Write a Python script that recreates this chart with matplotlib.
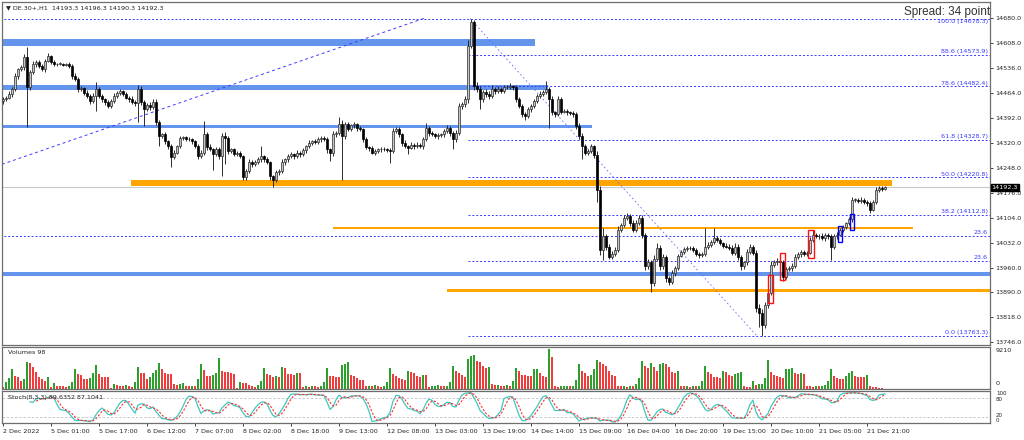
import numpy as np
import pandas as pd
import matplotlib.pyplot as plt
from matplotlib.patches import Rectangle
import matplotlib.transforms as mtransforms

# ---- DE.30+ H1 candles (2 Dec 06:00 .. 22 Dec 03:00) ----
close = np.array([
    14446, 14450, 14460, 14475, 14512, 14532, 14538, 14567, 14480, 14524,
    14547, 14553, 14541, 14532, 14556, 14570, 14553, 14546, 14548, 14548,
    14545, 14547, 14541, 14512, 14505, 14475, 14478, 14465, 14455, 14440,
    14455, 14475, 14455, 14446, 14437, 14426, 14440, 14455, 14464, 14469,
    14460, 14450, 14446, 14437, 14434, 14475, 14437, 14417, 14430, 14422,
    14437, 14379, 14339, 14344, 14324, 14310, 14278, 14292, 14310, 14333,
    14336, 14330, 14332, 14324, 14310, 14281, 14292, 14344, 14307, 14301,
    14287, 14301, 14281, 14339, 14333, 14295, 14301, 14287, 14290, 14281,
    14220, 14238, 14264, 14258, 14264, 14272, 14281, 14272, 14264, 14223,
    14214, 14235, 14238, 14264, 14272, 14281, 14287, 14281, 14292, 14287,
    14298, 14310, 14320, 14325, 14322, 14330, 14335, 14330, 14301, 14290,
    14344, 14349, 14373, 14339, 14373, 14359, 14370, 14373, 14363, 14359,
    14330, 14307, 14304, 14292, 14296, 14301, 14303, 14301, 14299, 14296,
    14353, 14359, 14344, 14320, 14310, 14306, 14315, 14310, 14315, 14310,
    14330, 14364, 14349, 14344, 14339, 14342, 14344, 14353, 14364, 14349,
    14330, 14349, 14426, 14431, 14446, 14600, 14668, 14483, 14475, 14446,
    14466, 14460, 14455, 14475, 14470, 14475, 14470, 14480, 14482, 14483,
    14480, 14446, 14426, 14402, 14397, 14417, 14426, 14440, 14455, 14460,
    14466, 14475, 14446, 14408, 14402, 14446, 14410, 14412, 14408, 14406,
    14402, 14368, 14339, 14310, 14292, 14296, 14310, 14285, 14185, 14012,
    14050, 14021, 13992, 14000, 14012, 14070, 14084, 14104, 14110, 14090,
    14070, 14090, 14104, 14055, 13964, 13975, 13916, 13985, 14017, 13964,
    13990, 13930, 13920, 13945, 13960, 13995, 14005, 14015, 14018, 14016,
    14012, 14000, 13996, 14000, 14020, 14025, 14035, 14045, 14040, 14030,
    14023, 14021, 14018, 14003, 14021, 13990, 13964, 13975, 14006, 14021,
    14003, 13844, 13829, 13795, 13853, 13887, 13968, 13975, 13980, 13976,
    13934, 13955, 13958, 13964, 13990, 14000, 14005, 14000, 14003, 14041,
    14055, 14050, 14052, 14045, 14055, 14050, 14021, 14050, 14055, 14070,
    14077, 14088, 14099, 14156, 14156, 14152, 14156, 14150, 14145, 14127,
    14150, 14185, 14190, 14186, 14192.3])
first_open = 14440

wick_up = np.array([
    6, 5, 8, 6, 10, 5, 7, 9, 29, 6,   8, 5, 6, 7, 5, 9, 4, 5, 3, 4,
    3, 4, 5, 6, 8, 5, 7, 4, 6, 5,     8, 20, 5, 6, 4, 7, 5, 8, 6, 5,
    4, 6, 5, 8, 5, 12, 10, 6, 5, 7,   10, 8, 6, 5, 7, 4, 6, 8, 5, 7,
    4, 5, 6, 3, 5, 7, 8, 38, 6, 9,    5, 7, 6, 10, 12, 6, 5, 4, 6, 5,
    4, 6, 8, 5, 7, 6, 29, 5, 6, 4,    5, 7, 6, 8, 5, 6, 7, 5, 6, 4,
    6, 5, 7, 4, 6, 8, 5, 6, 7, 5,     9, 6, 20, 12, 7, 6, 5, 8, 4, 6,
    5, 6, 4, 7, 5, 4, 6, 5, 4, 6,     10, 8, 6, 5, 7, 4, 6, 5, 6, 4,
    6, 12, 5, 6, 4, 7, 5, 6, 8, 5,    6, 7, 10, 8, 9, 15, 10, 6, 12, 9,
    7, 10, 8, 12, 6, 8, 5, 7, 6, 9,   5, 6, 7, 5, 8, 6, 5, 7, 6, 8,
    7, 23, 6, 8, 5, 10, 7, 5, 6, 4,   5, 6, 8, 10, 7, 6, 8, 5, 12, 10,
    25, 8, 6, 9, 7, 10, 6, 8, 7, 5,   8, 6, 9, 7, 6, 10, 8, 12, 15, 7,
    9, 6, 7, 8, 6, 5, 7, 6, 5, 4,     6, 5, 4, 6, 55, 8, 6, 30, 7, 6,
    5, 7, 6, 8, 10, 6, 7, 5, 8, 6,    5, 8, 10, 12, 9, 8, 10, 7, 8, 6,
    5, 7, 6, 8, 9, 6, 5, 7, 6, 8,     15, 6, 5, 7, 6, 5, 8, 6, 7, 5,
    6, 5, 7, 8, 6, 5, 7, 6, 5, 8,     6, 7, 5, 6, 3])
wick_dn = np.array([
    7, 6, 5, 8, 6, 9, 5, 7, 113, 8,   5, 7, 6, 5, 8, 4, 6, 4, 5, 3,
    4, 3, 5, 7, 6, 8, 5, 6, 7, 9,     5, 43, 6, 7, 8, 5, 6, 4, 7, 5,
    6, 5, 7, 6, 8, 55, 9, 49, 6, 7,   5, 8, 29, 6, 7, 8, 29, 6, 5, 4,
    6, 5, 4, 7, 6, 8, 5, 7, 9, 6,     44, 6, 8, 58, 75, 7, 5, 6, 4, 6,
    8, 6, 5, 7, 6, 5, 6, 7, 5, 9,     20, 6, 8, 5, 7, 6, 5, 8, 6, 7,
    5, 6, 4, 7, 5, 6, 8, 5, 10, 23,   7, 8, 6, 125, 7, 6, 5, 6, 8, 5,
    7, 6, 8, 5, 6, 4, 7, 5, 6, 33,    6, 5, 7, 8, 6, 19, 5, 7, 6, 5,
    7, 6, 8, 5, 6, 7, 5, 6, 5, 8,     29, 7, 6, 8, 7, 10, 8, 12, 9, 29,
    8, 7, 10, 6, 8, 5, 7, 6, 5, 6,    7, 8, 6, 9, 10, 6, 7, 5, 6, 7,
    5, 6, 82, 9, 7, 6, 8, 5, 7, 6,    8, 7, 9, 38, 8, 7, 6, 9, 37, 15,
    29, 9, 8, 7, 6, 8, 7, 6, 8, 9,    7, 8, 6, 10, 12, 8, 26, 9, 7, 10,
    8, 10, 9, 7, 8, 6, 5, 7, 6, 5,    6, 7, 8, 6, 7, 5, 6, 8, 7, 6,
    7, 5, 8, 6, 7, 9, 10, 8, 6, 7,    6, 12, 40, 32, 10, 8, 6, 7, 8, 9,
    12, 8, 6, 7, 5, 6, 8, 6, 7, 5,    6, 5, 7, 6, 8, 6, 38, 7, 6, 5,
    7, 6, 5, 8, 6, 7, 5, 6, 7, 8,     5, 6, 7, 4, 3])
volume = np.array([
    500, 1700, 2600, 4500, 3000, 2700, 1900, 2400, 6200, 5900,
    5000, 4000, 2700, 2200, 1900, 2800, 500, 1300, 700, 700,
    700, 500, 700, 1700, 4700, 3400, 3200, 2300, 2200, 2500,
    3600, 5500, 3500, 2700, 2700, 2650, 300, 1100, 1000, 800,
    700, 1000, 700, 500, 1700, 5100, 3700, 3650, 2300, 2700,
    3600, 4300, 6000, 4600, 3600, 3550, 3500, 1200, 1000, 1200,
    1300, 800, 700, 800, 700, 2300, 5850, 4400, 3100, 2900,
    3300, 3700, 7100, 4100, 3900, 3850, 3700, 3500, 250, 1500,
    1400, 1350, 1000, 600, 550, 1000, 1800, 4850, 3500, 3200,
    2700, 2900, 2800, 5000, 4850, 3500, 3400, 3300, 3700, 3600,
    450, 600, 500, 700, 600, 500, 800, 1500, 4850, 3100,
    2900, 2850, 2800, 5500, 5850, 6250, 3300, 3100, 2550, 2150,
    2000, 600, 800, 700, 900, 600, 500, 700, 1600, 4850,
    3450, 3100, 2550, 2300, 2000, 4100, 3850, 3700, 2900, 2800,
    3300, 3250, 450, 600, 700, 900, 800, 600, 700, 1500,
    5250, 4100, 3700, 3300, 2800, 7000, 7550, 7900, 6400, 6150,
    5400, 4850, 5000, 1250, 900, 1000, 800, 700, 900, 800,
    1800, 4850, 4100, 3300, 3150, 3100, 3050, 4600, 4700, 3700,
    2900, 2850, 9200, 7400, 600, 500, 600, 700, 800, 600,
    700, 2150, 5850, 4100, 3700, 2900, 3300, 4600, 6600, 6150,
    5850, 5400, 4250, 3300, 3100, 770, 600, 700, 500, 800,
    700, 1250, 2550, 6400, 5400, 4850, 6000, 5100, 4100, 5850,
    6000, 5850, 5100, 3850, 3700, 4100, 770, 600, 800, 500,
    700, 600, 800, 1800, 5250, 3950, 3450, 2800, 2750, 2550,
    4100, 4000, 3300, 3100, 3550, 3700, 3850, 600, 500, 400,
    1800, 1000, 1150, 1250, 2550, 6600, 3950, 3150, 3100, 2800,
    2500, 4600, 4700, 4750, 3700, 3550, 3700, 3500, 700, 600,
    500, 700, 600, 800, 1000, 1800, 4600, 2900, 2550, 2300,
    2250, 3100, 3700, 4100, 2900, 2850, 2800, 2750, 3300, 600,
    550, 400, 300, 200, 98])
assert len(close) == len(wick_up) == len(wick_dn) == len(volume)

time_labels = ['2 Dec 2022', '5 Dec 01:00', '5 Dec 17:00', '6 Dec 12:00', '7 Dec 07:00',
               '8 Dec 02:00', '8 Dec 18:00', '9 Dec 13:00', '12 Dec 08:00', '13 Dec 03:00',
               '13 Dec 19:00', '14 Dec 14:00', '15 Dec 09:00', '16 Dec 04:00', '16 Dec 20:00',
               '19 Dec 15:00', '20 Dec 10:00', '21 Dec 05:00', '21 Dec 21:00']
time_label_bars = [0, 16, 32, 48, 64, 80, 96, 112, 128, 144, 160, 176, 192, 208, 224,
                   240, 256, 272, 288]
price_ticks = [14680, 14608, 14536, 14464, 14392, 14320, 14248, 14176,
               14104, 14032, 13960, 13890, 13818, 13746]
price_tick_labels = ['%.1f' % p for p in price_ticks]

# fibonacci retracement (high 13 Dec -> low 19 Dec)
fib_low, fib_high = 13763.3, 14678.3
fib_start_bar = 155
fib_levels = [0.0, 23.6, 38.2, 50.0, 61.8, 78.6, 88.6, 100.0]
fib_labels = ['0.0 (13763.3)', '23.6', '38.2 (14112.8)', '50.0 (14220.8)',
              '61.8 (14328.7)', '78.6 (14482.4)', '88.6 (14573.9)', '100.0 (14678.3)']
extra_fib_price, extra_fib_label = 14052, '23.6'

# drawn zones: (bar_from, bar_to, price_lo, price_hi)
blue_zones = [(-1, 177.3, 14599, 14619), (-1, 181.7, 14472, 14486),
              (-1, 196.3, 14362, 14370), (-1, 340, 13935, 13947)]
orange_zones = [(42.7, 296.3, 14195, 14213), (110, 303.3, 14071, 14078),
                (148, 340, 13891, 13899)]
red_boxes = [(255.1, 256.6, 13858, 13939), (259.1, 260.7, 13923, 14003),
             (268.3, 270.4, 13988, 14070)]
blue_boxes = [(278.2, 279.6, 14034, 14079), (282.3, 283.7, 14068, 14115)]
trend_line = [(-0.33, 14258), (140.7, 14680)]
fib_diag = [(155.7, 14678.3), (251.3, 13763.3)]
bid = 14192.3

# ---- derived series ----
n = len(close)
idx = np.arange(n)
opens = np.r_[first_open, close[:-1]]
high = np.maximum(opens, close) + wick_up
low = np.minimum(opens, close) - wick_dn

hh = pd.Series(high).rolling(8).max()
ll = pd.Series(low).rolling(8).min()
stoch_k = 100 * (pd.Series(close) - ll).rolling(3).sum() / (hh - ll).rolling(3).sum()
stoch_d = stoch_k.rolling(3).mean()

# ---- figure ----
W, H = 1024, 440
fig = plt.figure(figsize=(W / 100, H / 100), dpi=100, facecolor='white')
left, width = 2 / W, 988 / W
ax = fig.add_axes([left, 95 / H, width, 343 / H])
axv = fig.add_axes([left, 51 / H, width, 42 / H], sharex=ax)
axs = fig.add_axes([left, 17 / H, width, 32 / H], sharex=ax)

small = 4.6
for a in (ax, axv, axs):
    for sp in a.spines.values():
        sp.set_color('#6e6e6e')
        sp.set_linewidth(0.9)
    a.tick_params(axis='x', length=0)
    a.set_xlim(-0.33, 329)

# zones
for x0, x1, p0, p1 in blue_zones:
    ax.add_patch(Rectangle((x0, p0), x1 - x0, p1 - p0, color='#6495ed', lw=0, zorder=1))
for x0, x1, p0, p1 in orange_zones:
    ax.add_patch(Rectangle((x0, p0), x1 - x0, p1 - p0, color='#ffa500', lw=0, zorder=1))

# fib levels
fib_prices = [fib_low + (fib_high - fib_low) * lv / 100 for lv in fib_levels]
for lv, p, lab in zip(fib_levels, fib_prices, fib_labels):
    x0 = -1 if lv == 100.0 else fib_start_bar
    ax.plot([x0, 340], [p, p], color='#3a3aff', lw=0.7, ls=(0, (2, 2)), zorder=1.5)
    if lv == 100.0:
        # sits under the spread text in the terminal; drop it just below the line
        ax.text(328.3, p - 2, lab, color='#3a3aff', fontsize=small, ha='right', va='top',
                zorder=5)
    else:
        ax.text(328.3, p + 2, lab, color='#3a3aff', fontsize=small, ha='right',
                va='bottom', zorder=5)
ax.plot([-1, 340], [extra_fib_price] * 2, color='#3a3aff', lw=0.7, ls=(0, (2, 2)), zorder=1.5)
ax.text(328.3, extra_fib_price + 2, extra_fib_label, color='#3a3aff', fontsize=small,
        ha='right', va='bottom', zorder=5)

(tx0, ty0), (tx1, ty1) = trend_line
ax.plot([tx0, tx1], [ty0, ty1], color='#3a3aff', lw=0.7, ls=(0, (3, 3)), zorder=1.5)
(fx0, fy0), (fx1, fy1) = fib_diag
ax.plot([fx0, fx1], [fy0, fy1], color='#6a6aff', lw=0.6, ls=(0, (2, 3)), zorder=1.5)

ax.axhline(bid, color='#c8c8c8', lw=0.8, zorder=1.2)

# candles
up = close >= opens
body = np.maximum(np.abs(close - opens), 1.5)
ax.vlines(idx, low, high, color='#1e1e1e', lw=0.65, zorder=3)
ax.bar(idx[up], body[up], bottom=opens[up], width=0.8, color='#c4c4c4',
       edgecolor='#2a2a2a', lw=0.5, zorder=3.1)
ax.bar(idx[~up], body[~up], bottom=close[~up], width=0.8, color='black',
       edgecolor='black', lw=0.5, zorder=3.1)

for x0, x1, p0, p1 in red_boxes:
    ax.add_patch(Rectangle((x0, p0), x1 - x0, p1 - p0, fill=False, ec='#ff1010', lw=1.0, zorder=4))
for x0, x1, p0, p1 in blue_boxes:
    ax.add_patch(Rectangle((x0, p0), x1 - x0, p1 - p0, fill=False, ec='#0000ff', lw=1.0, zorder=4))

ax.set_ylim(13737, 14726)
ax.yaxis.tick_right()
ax.set_yticks(price_ticks)
ax.set_yticklabels(price_tick_labels)
ax.tick_params(axis='y', length=2, width=0.6, pad=1.5, labelsize=small, colors='#222222')
ax.tick_params(axis='x', labelbottom=False)

ax.text(300.3, 14696, 'Spread: 34 points', fontsize=8.5, family='Liberation Sans',
        color='#333333', va='center', ha='left', clip_on=True, zorder=6)
trans = mtransforms.blended_transform_factory(ax.transAxes, ax.transData)
ax.text(1.0015, bid, '14192.3', transform=trans, fontsize=small, color='white',
        ha='left', va='center', zorder=7,
        bbox=dict(boxstyle='square,pad=0.15', fc='black', ec='black'))
fig.text(6 / W, 1 - 8 / H, '\u25bc DE.30+,H1  14193.3 14196.3 14190.3 14192.3',
         fontsize=small, color='#222222', va='center', ha='left')

# volumes
vcol = ['#2ca02c' if i > 0 and volume[i] > volume[i - 1] else '#f03c3c' for i in range(n)]
axv.bar(idx, volume, width=0.45, color=vcol, lw=0)
axv.set_ylim(0, 9670)
axv.set_yticks([])
axv.tick_params(axis='x', labelbottom=False)
axv.text(0.006, 0.86, 'Volumes 98', transform=axv.transAxes, fontsize=small,
         color='#222222', va='center')
axv.text(1.006, 0.92, '9210', transform=axv.transAxes, fontsize=small, color='#222222',
         va='center')
axv.text(1.006, 0.13, '0', transform=axv.transAxes, fontsize=small, color='#222222',
         va='center')

# stochastic
axs.axhline(80, color='#c0c0c0', lw=0.6, ls=(0, (3, 2)))
axs.axhline(20, color='#c0c0c0', lw=0.6, ls=(0, (3, 2)))
axs.plot(idx, stoch_k, color='#3cc8c0', lw=0.9)
axs.plot(idx, stoch_d, color='#ff3030', lw=0.8, ls=(0, (2, 1.5)))
axs.set_ylim(2.5, 100.6)
axs.set_yticks([])
axs.text(0.006, 0.8, 'Stoch(8,3,3) 89.6352 87.1041', transform=axs.transAxes,
         fontsize=small, color='#222222', va='center')
stoch_tr = mtransforms.blended_transform_factory(axs.transAxes, axs.transData)
for yv, lab in [(93, '100'), (76, '80'), (26, '20'), (9, '0')]:
    axs.text(1.006, yv, lab, transform=stoch_tr, fontsize=small - 0.6, color='#222222',
             va='center')

axs.set_xticks(time_label_bars)
axs.set_xticklabels(time_labels)
axs.tick_params(axis='x', length=2.5, width=0.6, pad=1.5, labelsize=small,
                colors='#222222', direction='out')
for t in axs.get_xticklabels():
    t.set_horizontalalignment('left')

fig.savefig('out.png', dpi=100, facecolor='white')
